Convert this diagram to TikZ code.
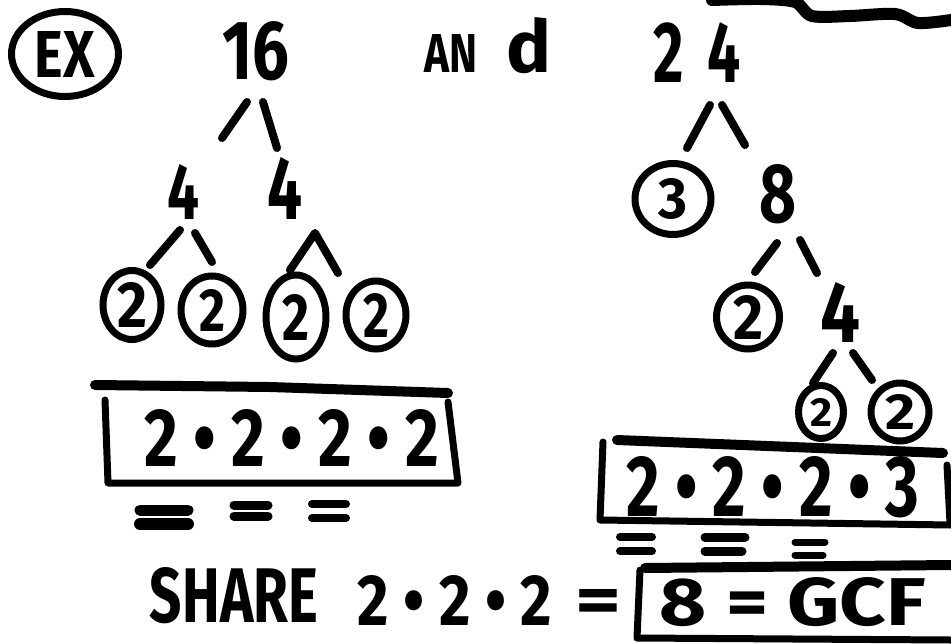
\documentclass[tikz,border=0pt]{standalone}
\usepackage{fontspec}
\setmainfont{Fira Sans}
\usepackage{graphicx}
\usetikzlibrary{shapes.geometric}

% marker-like text squeezed to a given width and height
\newcommand{\hw}[3]{\resizebox{#1pt}{#2pt}{\bfseries #3}}

\begin{document}
\begin{tikzpicture}[x=1pt, y=-1pt,
  ink/.style={line width=7pt, line cap=round, line join=round},
  bar/.style={line width=10pt, line cap=round},
  twig/.style={line width=8pt, line cap=round, line join=round},
  ring/.style={draw, ellipse, line width=7pt, inner sep=0pt},
  num/.style={inner sep=0pt}]
  \useasboundingbox (0,0) rectangle (951,643);

  % heading
  \node[ring, minimum width=107pt, minimum height=85pt] (ex) at (65,54) {\hw{60}{46}{EX}};
  \node[num] (n16) at (256,51) {\hw{67}{58}{16}};
  \node[num] (and) at (488,46) {\hw{53}{38}{AN}\hspace{29pt}\hw{45}{55}{d}};
  \node[num] (n24) at (697,52) {\hw{87}{60}{2\hspace{.4em}4}};
  \draw[line width=12pt, line cap=round] plot[smooth] coordinates
    {(712,0) (760,-1) (795,2) (812,16) (850,16) (895,14) (918,23) (951,20)};

  % tree of 16
  \node[num] (l4a) at (184,192) {\hw{32}{55}{4}};
  \node[num] (l4b) at (285,188) {\hw{35}{62}{4}};
  \node[ring, minimum width=58pt, minimum height=69pt] (c1) at (132,305) {\hw{30}{45}{2}};
  \node[ring, minimum width=62pt, minimum height=68pt] (c2) at (212,310) {\hw{26}{42}{2}};
  \node[ring, minimum width=60pt, minimum height=84pt] (c3) at (296,317) {\hw{27}{46}{2}};
  \node[ring, minimum width=60pt, minimum height=68pt] (c4) at (376,315) {\hw{26}{44}{2}};
  \draw[twig] ([shift={(-9,51)}]n16.center) -- ([shift={(38,-54)}]l4a.center);
  \draw[twig] ([shift={(7,51)}]n16.center) -- ([shift={(-8,-40)}]l4b.center);
  \draw[twig] ([shift={(-4,38)}]l4a.center) -- ([shift={(18,-40)}]c1.center);
  \draw[twig] ([shift={(11,41)}]l4a.center) -- ([shift={(0,-48)}]c2.center);
  \draw[twig] ([shift={(-6,-47)}]c3.center) -- ([shift={(30,45)}]l4b.center)
    -- ([shift={(-38,-42)}]c4.center);

  % tree of 24
  \node[ring, minimum width=76pt, minimum height=71pt] (c3r) at (673,199) {\hw{29}{40}{3}};
  \node[num] (n8) at (778,194) {\hw{37}{58}{8}};
  \node[ring, minimum width=63pt, minimum height=64pt] (c2r) at (748,317) {\hw{30}{44}{2}};
  \node[num] (r4) at (840,312) {\hw{40}{60}{4}};
  \node[ring, minimum width=45pt, minimum height=53pt] (c5) at (821,412) {\hw{22}{28}{2}};
  \node[ring, minimum width=58pt, minimum height=58pt] (c6) at (900,412) {\hw{30}{35}{2}};
  \draw[twig] ([shift={(13,53)}]n24.center) -- ([shift={(14,-51)}]c3r.center);
  \draw[twig] ([shift={(25,53)}]n24.center) -- ([shift={(-33,-49)}]n8.center);
  \draw[twig] ([shift={(-1,49)}]n8.center) -- ([shift={(7,-45)}]c2r.center);
  \draw[twig] ([shift={(22,46)}]n8.center) -- ([shift={(-23,-39)}]r4.center);
  \draw[twig] ([shift={(-7,41)}]r4.center) -- ([shift={(-8,-29)}]c5.center);
  \draw[twig] ([shift={(13,41)}]r4.center) -- ([shift={(-28,-32)}]c6.center);

  % the two products
  \node[num] (lprod) at (292,438) {\hw{295}{57}{2 \textbullet\ 2 \textbullet\ 2 \textbullet\ 2}};
  \draw[bar] (95,385) -- (270,387) -- (448,393);
  \draw[ink] (105,400) -- (108,483) -- (458,483) -- (448,402);
  \node[num] (rprod) at (773,487) {\hw{293}{60}{2 \textbullet\ 2 \textbullet\ 2 \textbullet\ 3}};
  \draw[bar] (617,440) -- (943,453);
  \draw[ink] (603,442) -- (600,520) -- (951,525);
  \draw[ink] (947,465) -- (950,523);

  % shared factors
  \foreach \xa/\xb/\y/\w in {140/188/510/11, 140/188/524/12, 234/268/505/9, 234/268/516/9,
      312/346/504/8, 312/346/518/8, 620/652/537/8, 620/652/551/8,
      705/745/537/9, 705/742/551/9, 795/825/542/7, 795/823/555/7}
    \draw[line width=\w pt, line cap=round] (\xa,\y) -- (\xb,\y);

  % result
  \node[num] (share) at (234,596) {\hw{168}{55}{SHARE}};
  \node[num] (sprod) at (455,600) {\hw{194}{50}{2 \textbullet\ 2 \textbullet\ 2}};
  \node[num] (seq) at (599,606) {\hw{46}{34}{=}};
  \node[num] (gcf) at (793,602) {\hw{266}{48}{8 = GCF}};
  \draw[bar] (645,568) -- (951,565);
  \draw[ink] (640,570) -- (637,638) -- (951,640);
\end{tikzpicture}
\end{document}
